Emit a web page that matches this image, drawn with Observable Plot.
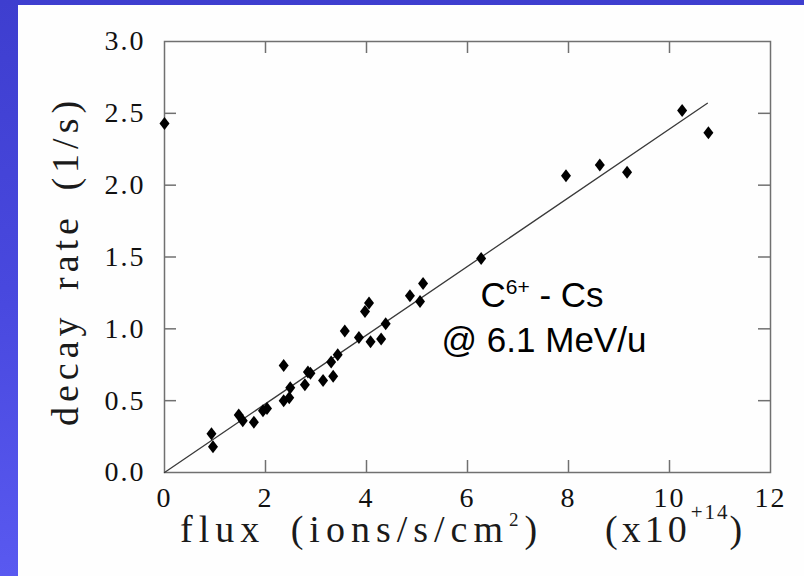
<!DOCTYPE html>
<html>
<head>
<meta charset="utf-8">
<script src="https://cdn.jsdelivr.net/npm/d3@7"></script>
<script src="https://cdn.jsdelivr.net/npm/@observablehq/plot@0.6"></script>
<style>
  html, body { margin: 0; padding: 0; }
  body {
    width: 804px; height: 576px; overflow: hidden; position: relative;
    background: linear-gradient(180deg, #3e3ecf 0%, #4848de 50%, #5959f0 100%);
  }
  #panel {
    position: absolute; left: 18px; top: 5px; width: 786px; height: 571px;
    background: #fefefe;
  }
  #panel svg { display: block; }
</style>
</head>
<body>
<div id="panel"></div>
<script>
// Measured decay rate versus ion flux (C6+ on Cs at 6.1 MeV/u)
const flux = [0, 0.93, 0.96, 1.47, 1.55, 1.77, 1.95, 2.03, 2.36, 2.36, 2.47, 2.49,
  2.78, 2.84, 2.89, 3.14, 3.30, 3.34, 3.43, 3.57, 3.85, 3.97, 4.05, 4.08, 4.29, 4.38,
  4.86, 5.06, 5.12, 6.27, 7.95, 8.62, 9.16, 10.25, 10.77];
const decayRate = [2.43, 0.27, 0.18, 0.40, 0.36, 0.35, 0.43, 0.445, 0.745, 0.50, 0.52, 0.59,
  0.61, 0.70, 0.69, 0.64, 0.77, 0.67, 0.82, 0.985, 0.94, 1.12, 1.18, 0.91, 0.93, 1.035,
  1.23, 1.19, 1.315, 1.49, 2.065, 2.14, 2.09, 2.52, 2.365];

// Linear fit through the origin
const fitFlux = [0, 10.75];
const fitRate = [0, 2.57];

// Axis ticks
const xTicks = [0, 2, 4, 6, 8, 10, 12];
const yTicks = [0, 0.5, 1.0, 1.5, 2.0, 2.5, 3.0];
const xInnerTicks = [2, 4, 6, 8, 10];
const yInnerTicks = [0.5, 1.0, 1.5, 2.0, 2.5];

const W = 786, H = 571;
const margin = {top: 36, right: 34, bottom: 104, left: 146};
const plotW = W - margin.left - margin.right;
const plotH = H - margin.top - margin.bottom;
const tickLen = 12;
const frameColor = "#707070";
const serif = "'Liberation Serif', 'DejaVu Serif', serif";

const points = flux.map((x, i) => ({x, y: decayRate[i]}));
const fit = fitFlux.map((x, i) => ({x, y: fitRate[i]}));

// Diamond a little taller than wide
const tallDiamond = {
  draw(ctx, size) {
    const r = Math.sqrt(size / Math.PI);
    const w = r, h = r * 1.3;
    ctx.moveTo(0, -h); ctx.lineTo(w, 0); ctx.lineTo(0, h); ctx.lineTo(-w, 0); ctx.closePath();
  }
};

const chart = Plot.plot({
  width: W, height: H,
  marginTop: margin.top, marginRight: margin.right,
  marginBottom: margin.bottom, marginLeft: margin.left,
  style: {background: "transparent", fontFamily: serif, color: "#111"},
  x: {domain: [0, 12]},
  y: {domain: [0, 3]},
  marks: [
    Plot.frame({stroke: frameColor, strokeWidth: 1.5}),
    // inward ticks on all four sides
    Plot.tickX(xInnerTicks, {x: d => d, insetTop: plotH - tickLen, stroke: frameColor, strokeWidth: 1.5}),
    Plot.tickX(xInnerTicks, {x: d => d, insetBottom: plotH - tickLen, stroke: frameColor, strokeWidth: 1.5}),
    Plot.tickY(yInnerTicks, {y: d => d, insetRight: plotW - tickLen, stroke: frameColor, strokeWidth: 1.5}),
    Plot.tickY(yInnerTicks, {y: d => d, insetLeft: plotW - tickLen, stroke: frameColor, strokeWidth: 1.5}),
    Plot.axisX(xTicks, {tickSize: 0, tickPadding: 15, fontSize: 28, label: null, tickFormat: d => String(d)}),
    Plot.axisY(yTicks, {tickSize: 0, tickPadding: 19, fontSize: 28, label: null, tickFormat: d => d.toFixed(1)}),
    Plot.line(fit, {x: "x", y: "y", stroke: "#3a3a3a", strokeWidth: 1.3}),
    Plot.dot(points, {x: "x", y: "y", symbol: tallDiamond, r: 5, fill: "#000"})
  ]
});

document.getElementById("panel").appendChild(chart);

const svg = d3.select(chart);

// slightly wider spacing for the tick numbers
svg.selectAll('g[aria-label="x-axis tick label"] text, g[aria-label="y-axis tick label"] text')
  .attr("letter-spacing", 2);

// y-axis title
svg.append("text")
  .attr("transform", "translate(60,256) rotate(-90)")
  .attr("text-anchor", "middle")
  .attr("font-family", serif)
  .attr("font-size", 38)
  .attr("letter-spacing", 5)
  .attr("word-spacing", 8)
  .attr("fill", "#1a1a1a")
  .text("decay rate (1/s)");

// x-axis title
const xt1 = svg.append("text")
  .attr("x", 162).attr("y", 537).attr("text-anchor", "start")
  .attr("font-family", serif).attr("font-size", 38).attr("fill", "#1a1a1a")
  .attr("letter-spacing", 6).attr("word-spacing", 10);
xt1.append("tspan").text("flux (ions/s/cm");
xt1.append("tspan").attr("font-size", 19).attr("dy", -16).text("2");
xt1.append("tspan").attr("dy", 16).text(")");

const xt2 = svg.append("text")
  .attr("x", 587).attr("y", 537).attr("text-anchor", "start")
  .attr("font-family", serif).attr("font-size", 38).attr("fill", "#1a1a1a")
  .attr("letter-spacing", 4);
xt2.append("tspan").text("(x10");
xt2.append("tspan").attr("font-size", 21).attr("dy", -23).attr("letter-spacing", 2).text("+14");
xt2.append("tspan").attr("dy", 23).text(")");

// annotation
const sans = "'Liberation Sans', Arial, sans-serif";
const a1 = svg.append("text")
  .attr("x", 524).attr("y", 302).attr("text-anchor", "middle")
  .attr("font-family", sans).attr("font-size", 35).attr("fill", "#000");
a1.append("tspan").text("C");
a1.append("tspan").attr("font-size", 21).attr("dy", -13).text("6+");
a1.append("tspan").attr("dy", 13).text(" - Cs");

svg.append("text")
  .attr("x", 526).attr("y", 347).attr("text-anchor", "middle")
  .attr("font-family", sans).attr("font-size", 35).attr("fill", "#000")
  .text("@ 6.1 MeV/u");
</script>
</body>
</html>
